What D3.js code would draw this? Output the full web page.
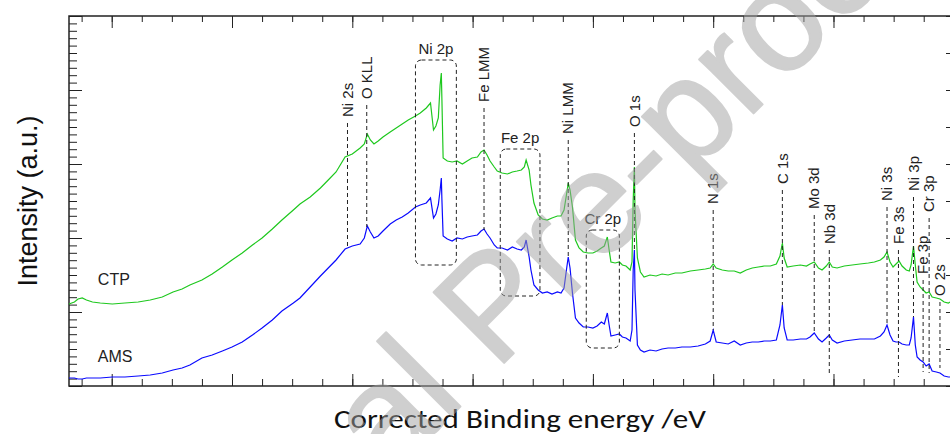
<!DOCTYPE html>
<html>
<head>
<meta charset="utf-8">
<script src="https://cdn.jsdelivr.net/npm/d3@7"></script>
<style>
  body { margin: 0; background: #fff; }
  svg { display: block; }
</style>
</head>
<body>
<div id="chart"></div>
<script>
// Binding energy (eV), shared by both spectra
const energy = [1471, 1462, 1456, 1449, 1442, 1432, 1419, 1399, 1378, 1356, 1336, 1316, 1298, 1283, 1270,
  1250, 1233, 1216, 1200, 1183, 1166, 1150, 1133, 1117, 1098, 1087, 1070, 1053, 1040, 1027,
  1012, 1000, 987, 980, 975, 970, 964, 957, 949, 937, 927, 917, 907, 895, 887,
  877, 870, 865, 861, 857, 854, 852, 851, 849, 842, 834, 826, 817, 809, 801,
  792, 786, 781, 776, 771, 764, 759, 751, 742, 734, 726, 719, 714, 711, 706,
  703, 698, 691, 684, 676, 668, 659, 653, 648, 644, 641, 638, 634, 629, 623,
  616, 608, 600, 593, 586, 581, 576, 573, 570, 563, 556, 551, 545, 538, 535,
  533, 531, 530, 526, 521, 515, 505, 495, 485, 475, 463, 452, 438, 425, 413,
  405, 400, 395, 385, 375, 365, 355, 345, 335, 325, 315, 305, 295, 289, 285,
  282, 277, 267, 255, 245, 239, 232, 225, 219, 212, 207, 202, 194, 182, 169,
  156, 142, 132, 122, 116, 111, 106, 101, 96, 91, 86, 79, 74, 71, 67,
  64, 61, 56, 51, 46, 41, 36, 29, 23, 16, 9, 6, -7];

// Intensity (a.u.) of the CTP sample
const ctp = [82, 84, 87, 88, 86, 84, 83, 82, 83, 84, 86, 89, 94, 97, 101,
  106, 112, 119, 126, 133, 141, 148, 157, 166, 176, 182, 189, 198, 206, 214,
  229, 232, 238, 242, 252, 246, 242, 245, 249, 254, 258, 262, 266, 270, 273,
  278, 283, 256, 260, 268, 301, 313, 286, 228, 225, 224, 225, 222, 225, 228,
  229, 234, 236, 231, 225, 219, 215, 213, 212, 214, 215, 216, 219, 226, 216,
  201, 183, 171, 167, 166, 168, 170, 170, 176, 191, 203, 196, 179, 146, 138,
  134, 133, 133, 135, 138, 140, 149, 136, 124, 123, 124, 121, 120, 116, 124,
  186, 219, 176, 128, 114, 109, 111, 110, 112, 111, 113, 113, 115, 116, 117,
  118, 122, 118, 116, 115, 115, 113, 116, 118, 119, 120, 120, 122, 130, 143,
  128, 119, 120, 121, 120, 122, 124, 118, 116, 120, 124, 119, 118, 120, 121,
  122, 123, 124, 126, 129, 134, 124, 119, 122, 125, 120, 116, 115, 121, 140,
  121, 104, 99, 96, 93, 94, 89, 88, 87, 84, 83, 84, 84];

// Intensity (a.u.) of the AMS sample
const ams = [8, 8, 7, 7, 8, 8, 8, 9, 9, 10, 11, 13, 16, 18, 21,
  28, 31, 35, 39, 44, 51, 58, 66, 75, 83, 88, 99, 110, 118, 126,
  137, 140, 142, 148, 160, 154, 148, 150, 155, 162, 166, 169, 173, 179, 181,
  183, 188, 168, 172, 181, 196, 208, 186, 150, 147, 145, 148, 147, 149, 150,
  151, 155, 157, 152, 148, 141, 138, 138, 136, 139, 137, 136, 139, 146, 129,
  116, 101, 96, 93, 94, 92, 94, 93, 98, 116, 129, 118, 93, 68, 63,
  59, 59, 58, 60, 64, 62, 73, 61, 50, 51, 52, 49, 48, 45, 56,
  116, 136, 96, 41, 36, 34, 36, 35, 37, 38, 38, 39, 39, 40, 42,
  45, 56, 44, 43, 42, 45, 41, 43, 44, 44, 45, 45, 46, 61, 81,
  58, 46, 46, 47, 47, 49, 53, 47, 44, 48, 51, 46, 43, 45, 46,
  47, 47, 47, 50, 54, 61, 51, 45, 44, 44, 42, 41, 41, 48, 69,
  41, 29, 26, 24, 20, 22, 15, 14, 13, 10, 9, 9, 9];

const seriesNames = ["CTP", "AMS"];

// Peak assignments (eV)
const peakNames = ["Ni 2s", "O KLL", "Fe LMM", "Ni LMM", "O 1s", "N 1s", "C 1s", "Mo 3d",
  "Nb 3d", "Ni 3s", "Fe 3s", "Ni 3p", "Fe 3p", "Cr 3p", "O 2s"];
const peakEnergy = [1008, 976, 781, 641, 531, 400, 285, 232, 207, 111, 92, 67, 51, 41, 23];
// dashed marker extent (a.u.), top and bottom
const peakTop = [263, 281, 278, 246, 253, 176, 196, 171, 136, 179, 136, 189, 106, 168, 84];
const peakBottom = [139, 159, 156, 129, 136, 56, 81, 53, 13, 61, 9, 69, 14, 13, 18];

// Boxed regions: energy range and a.u. range
const regionNames = ["Ni 2p", "Fe 2p", "Cr 2p"];
const regionEnergy = [[895, 827], [754, 688], [611, 556]];
const regionLevel = [[326, 121], [237, 90], [156, 38]];

const width = 950, height = 434;
const margin = { top: 16, right: -8, bottom: 48, left: 69 };
const innerW = width - margin.left - margin.right;
const innerH = height - margin.top - margin.bottom;

const svg = d3.select("#chart")
  .append("svg")
  .attr("width", width)
  .attr("height", height);

const x = d3.scaleLinear().domain([1471, -7]).range([0, innerW]);
const y = d3.scaleLinear().domain([0, 370]).range([innerH, 0]);

const g = svg.append("g")
  .attr("transform", "translate(" + margin.left + "," + margin.top + ")");

const labelFont = "'Liberation Sans', Arial, sans-serif";

// Ticks on all four sides, pointing inward
const minorX = d3.range(1450, -7, -50);
const majorX = d3.range(1400, -7, -200);
const minorY = d3.range(0, 371, 7.4);
const majorY = d3.range(0, 371, 74);

function tickAxis(axisFn, scale, values, len) {
  return axisFn(scale).tickValues(values).tickSize(len).tickFormat("");
}

g.append("g").attr("transform", "translate(0," + innerH + ")")
  .call(tickAxis(d3.axisTop, x, minorX, 7));
g.append("g").attr("transform", "translate(0," + innerH + ")")
  .call(tickAxis(d3.axisTop, x, majorX, 12));
g.append("g").call(tickAxis(d3.axisBottom, x, minorX, 6));
g.append("g").call(tickAxis(d3.axisBottom, x, majorX, 12));
g.append("g").call(tickAxis(d3.axisRight, y, minorY, 8));
g.append("g").call(tickAxis(d3.axisRight, y, majorY, 13));
g.append("g").attr("transform", "translate(" + innerW + ",0)")
  .call(tickAxis(d3.axisLeft, y, d3.range(0, 371, 37), 12));

g.selectAll(".domain").remove();
g.selectAll(".tick line").attr("stroke", "#222").attr("stroke-width", 1);

// Frame
g.append("rect")
  .attr("width", innerW)
  .attr("height", innerH)
  .attr("fill", "none")
  .attr("stroke", "#222")
  .attr("stroke-width", 1.5);

// Spectra
const line = d3.line()
  .x((d, i) => x(energy[i]))
  .y(d => y(d));

g.append("path")
  .datum(ctp)
  .attr("d", line)
  .attr("fill", "none")
  .attr("stroke", "#1ec81e")
  .attr("stroke-width", 1.2);

g.append("path")
  .datum(ams)
  .attr("d", line)
  .attr("fill", "none")
  .attr("stroke", "#0a0aff")
  .attr("stroke-width", 1.2);

// Peak markers
peakNames.forEach((name, i) => {
  const px = x(peakEnergy[i]);
  g.append("line")
    .attr("x1", px).attr("x2", px)
    .attr("y1", y(peakTop[i])).attr("y2", y(peakBottom[i]))
    .attr("stroke", "#222")
    .attr("stroke-width", 1)
    .attr("stroke-dasharray", "4,3");
  g.append("text")
    .attr("transform", "translate(" + px + "," + (y(peakTop[i]) - 6) + ") rotate(-90)")
    .attr("dy", "0.35em")
    .style("font-family", labelFont)
    .style("font-size", "15px")
    .attr("fill", "#222")
    .text(name);
});

// Boxed regions
regionNames.forEach((name, i) => {
  const x0 = x(regionEnergy[i][0]), x1 = x(regionEnergy[i][1]);
  const y0 = y(regionLevel[i][0]), y1 = y(regionLevel[i][1]);
  g.append("rect")
    .attr("x", x0).attr("y", y0)
    .attr("width", x1 - x0).attr("height", y1 - y0)
    .attr("rx", 6).attr("ry", 6)
    .attr("fill", "none")
    .attr("stroke", "#222")
    .attr("stroke-width", 1)
    .attr("stroke-dasharray", "4,3");
  g.append("text")
    .attr("x", (x0 + x1) / 2)
    .attr("y", y0 - 6)
    .attr("text-anchor", "middle")
    .style("font-family", labelFont)
    .style("font-size", "15px")
    .attr("fill", "#222")
    .text(name);
});

// Series names
const seriesLevel = [101, 24];
seriesNames.forEach((name, i) => {
  g.append("text")
    .attr("x", x(1423))
    .attr("y", y(seriesLevel[i]))
    .style("font-family", labelFont)
    .style("font-size", "16px")
    .attr("fill", "#222")
    .text(name);
});

// Axis titles
svg.append("text")
  .attr("transform", "translate(37," + (margin.top + innerH / 2) + ") rotate(-90)")
  .attr("text-anchor", "middle")
  .style("font-family", labelFont)
  .style("font-size", "27px")
  .attr("fill", "#111")
  .text("Intensity (a.u.)");

svg.append("text")
  .attr("x", 520)
  .attr("y", 428)
  .attr("text-anchor", "middle")
  .attr("textLength", 372)
  .attr("lengthAdjust", "spacingAndGlyphs")
  .style("font-family", "Carlito, Calibri, Lato, sans-serif")
  .style("font-size", "27px")
  .attr("fill", "#111")
  .text("Corrected Binding energy /eV");

// Watermark
svg.append("text")
  .attr("transform", "translate(131,736) rotate(-45)")
  .style("font-family", labelFont)
  .style("font-size", "145px")
  .attr("fill", "#a0a0a0")
  .attr("stroke", "#a0a0a0")
  .attr("stroke-width", 2)
  .attr("stroke-linejoin", "round")
  .attr("opacity", 0.5)
  .text("Journal Pre-proof");
</script>
</body>
</html>
